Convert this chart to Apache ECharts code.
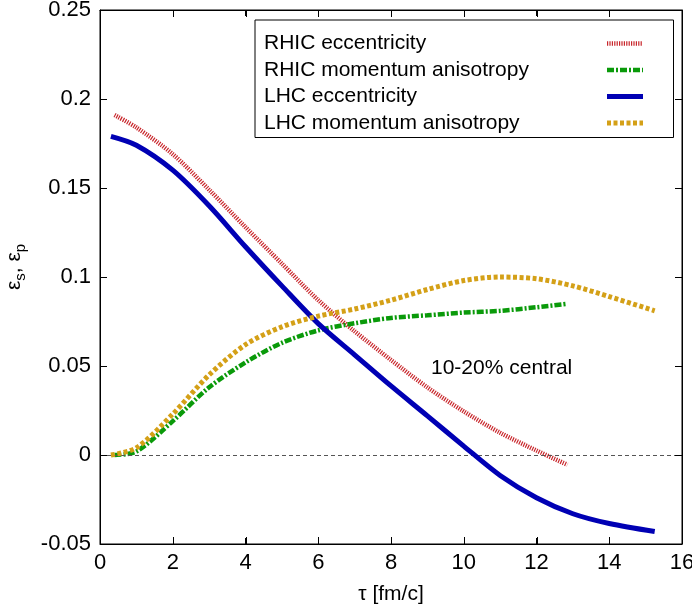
<!DOCTYPE html>
<html>
<head>
<meta charset="utf-8">
<script src="https://cdn.jsdelivr.net/npm/echarts@6/dist/echarts.min.js"></script>
<style>html,body{margin:0;padding:0;background:#fff}#c{width:692px;height:610px}</style>
</head>
<body>
<div id="c"></div>
<script>
// ---- data ----
const seriesNames = ['RHIC eccentricity', 'RHIC momentum anisotropy', 'LHC eccentricity', 'LHC momentum anisotropy'];
const rhicTau = [0.4, 1, 2, 3, 4, 5, 6, 7, 8, 9, 10, 11, 12, 12.85];
const rhicEcc = [0.191, 0.184, 0.169, 0.149, 0.128, 0.1075, 0.087, 0.0695, 0.0534, 0.038, 0.0245, 0.0125, 0.0025, -0.0055];
const rhicMom = [0.0, 0.002, 0.019, 0.038, 0.052, 0.063, 0.070, 0.074, 0.077, 0.0785, 0.080, 0.081, 0.083, 0.085];
const lhcTau = [0.3, 1, 2, 3, 4, 5, 6, 7, 8, 9, 10, 11, 12, 13, 14, 15.25];
const lhcEcc = [0.179, 0.174, 0.160, 0.140, 0.117, 0.095, 0.0738, 0.0563, 0.0388, 0.022, 0.005, -0.0115, -0.024, -0.033, -0.0385, -0.043];
const lhcMom = [0.0, 0.004, 0.023, 0.045, 0.062, 0.072, 0.078, 0.082, 0.087, 0.093, 0.098, 0.100, 0.099, 0.095, 0.089, 0.081];
const xTicks = {min: 0, max: 16, interval: 2};
const yTicks = {min: -0.05, max: 0.25, interval: 0.05};
const annotation = '10-20% central';

function pairs(xs, ys) { return xs.map((x, i) => [x, ys[i]]); }

const FONT = 'Liberation Sans';
const chart = echarts.init(document.getElementById('c'));

const styles = [
  {color: '#c8262b', type: [1.2, 1.2], width: 4.5},
  {color: '#0a9a0a', type: [7, 2, 2, 2], width: 4.5},
  {color: '#0000b4', type: 'solid', width: 5},
  {color: '#d4a017', type: [4, 2.5], width: 5}
];
const datas = [pairs(rhicTau, rhicEcc), pairs(rhicTau, rhicMom), pairs(lhcTau, lhcEcc), pairs(lhcTau, lhcMom)];

const series = datas.map((d, i) => ({
  name: seriesNames[i],
  type: 'line',
  data: d,
  smooth: 0.3,
  showSymbol: false,
  symbol: 'none',
  lineStyle: {color: styles[i].color, type: styles[i].type, width: styles[i].width, cap: 'butt'},
  itemStyle: {color: styles[i].color},
  z: 3 + i
}));
series.push({
  name: 'zero', type: 'line', data: [], silent: true,
  markLine: {
    silent: true, symbol: 'none', label: {show: false},
    lineStyle: {color: '#555', type: [4, 3], width: 1},
    data: [{yAxis: 0}]
  }
});

function axisCommon() {
  return {
    axisLine: {show: true, onZero: false, lineStyle: {color: '#000', width: 1}},
    axisTick: {show: true, inside: true, length: 6, lineStyle: {color: '#000', width: 1}},
    splitLine: {show: false}
  };
}

chart.setOption({
  animation: false,
  backgroundColor: '#fff',
  textStyle: {fontFamily: FONT},
  grid: {left: 100, right: 10, top: 10, bottom: 66, containLabel: false, outerBoundsMode: 'none',
         show: true, borderColor: '#000', borderWidth: 1, backgroundColor: 'transparent'},
  legend: {
    orient: 'vertical',
    left: 255, top: 20,
    align: 'right',
    data: seriesNames.map((n, i) => ({name: n, lineStyle: {color: styles[i].color, type: styles[i].type, width: styles[i].width}})),
    itemWidth: 36, itemHeight: 12, itemGap: 5.5,
    padding: [13, 28, 4, 9],
    borderColor: '#000', borderWidth: 1,
    itemStyle: {opacity: 0},
    formatter: n => '{a|' + n + '}',
    textStyle: {fontSize: 21, color: '#000', fontFamily: FONT,
      rich: {a: {fontSize: 21, fontFamily: FONT, color: '#000', width: 338, align: 'left'}}},
    selectedMode: false
  },
  xAxis: [
    Object.assign({type: 'value', position: 'bottom', min: xTicks.min, max: xTicks.max, interval: xTicks.interval,
      name: 'τ [fm/c]', nameLocation: 'middle', nameGap: 40,
      nameTextStyle: {fontSize: 21, color: '#000', fontFamily: FONT},
      axisLabel: {fontSize: 22, color: '#000', margin: 8, fontFamily: FONT}}, axisCommon()),
    Object.assign({type: 'value', position: 'top', min: xTicks.min, max: xTicks.max, interval: xTicks.interval,
      axisLabel: {show: false}}, axisCommon())
  ],
  yAxis: [
    Object.assign({type: 'value', position: 'left', min: yTicks.min, max: yTicks.max, interval: yTicks.interval,
      name: '{e|ε}{s|s}{e|, ε}{s|p}', nameLocation: 'middle', nameGap: 72, nameRotate: 90,
      nameTextStyle: {color: '#000', fontFamily: FONT, padding: [0, 0, 0, 20],
        rich: {e: {fontSize: 21, fontFamily: FONT, color: '#000', verticalAlign: 'top', lineHeight: 24},
               s: {fontSize: 15, fontFamily: FONT, color: '#000', verticalAlign: 'bottom', lineHeight: 24, padding: [12, 0, 0, 0]}}},
      axisLabel: {fontSize: 22, color: '#000', margin: 9, fontFamily: FONT,
        formatter: v => String(parseFloat(v.toFixed(3)))}}, axisCommon()),
    Object.assign({type: 'value', position: 'right', min: yTicks.min, max: yTicks.max, interval: yTicks.interval,
      axisLabel: {show: false}}, axisCommon())
  ],
  series: series
});

// Tick marks on all four sides as thin filled rects, placed through the chart's own scales
const graphics = [{
  type: 'text', left: 431, top: 358, silent: true,
  style: {text: annotation, fontSize: 21, fill: '#000', fontFamily: FONT}
}];
const TL = 7;
function tickRect(x, y, w, h) {
  return {type: 'rect', silent: true, z: 50, shape: {x: x, y: y, width: w, height: h}, style: {fill: '#000', stroke: null}};
}
const nX = Math.round((xTicks.max - xTicks.min) / xTicks.interval);
for (let k = 0; k <= nX; k++) {
  const v = xTicks.min + k * xTicks.interval;
  const pb = chart.convertToPixel({gridIndex: 0}, [v, yTicks.min]);
  const pt = chart.convertToPixel({gridIndex: 0}, [v, yTicks.max]);
  if (!pb || !pt || !isFinite(pb[0])) continue;
  const x = Math.round(pb[0]);
  graphics.push(tickRect(x, Math.round(pb[1]) - TL, 1, TL));
  graphics.push(tickRect(x, Math.round(pt[1]), 1, TL));
}
const nY = Math.round((yTicks.max - yTicks.min) / yTicks.interval);
for (let k = 0; k <= nY; k++) {
  const v = yTicks.min + k * yTicks.interval;
  const pl = chart.convertToPixel({gridIndex: 0}, [xTicks.min, v]);
  const pr = chart.convertToPixel({gridIndex: 0}, [xTicks.max, v]);
  if (!pl || !pr || !isFinite(pl[1])) continue;
  const y = Math.round(pl[1]);
  graphics.push(tickRect(Math.round(pl[0]), y, TL, 1));
  graphics.push(tickRect(Math.round(pr[0]) - TL, y, TL, 1));
}
chart.setOption({graphic: graphics});
</script>
</body>
</html>
